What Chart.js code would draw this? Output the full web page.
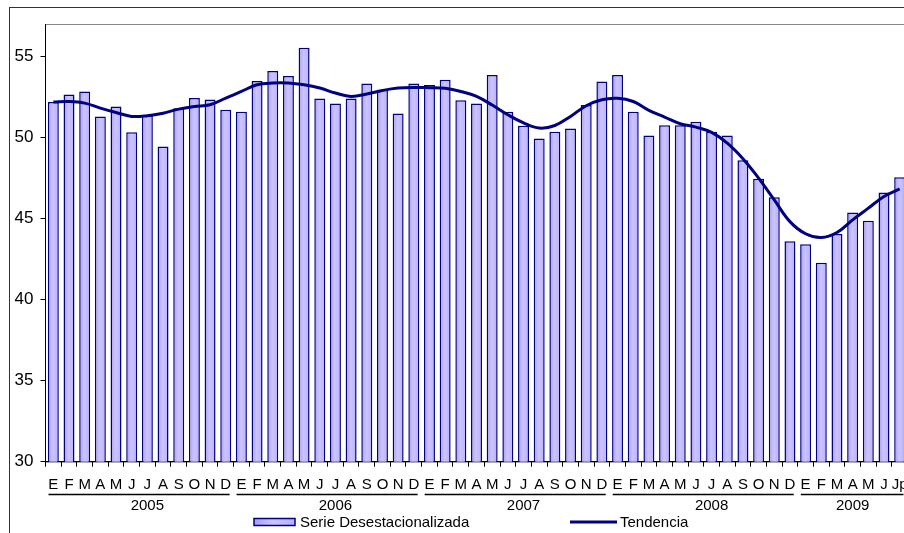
<!DOCTYPE html>
<html>
<head>
<meta charset="utf-8">
<script src="https://cdn.jsdelivr.net/npm/chart.js@4/dist/chart.umd.min.js"></script>
<style>
    html, body { margin: 0; padding: 0; background: #fff; overflow: hidden; }
    #wrap { position: relative; width: 920px; height: 545px; }
</style>
</head>
<body>
<div id="wrap"><canvas id="chart" width="920" height="545"></canvas></div>
<script>
// Month letters per year (2009 ends with preliminary July)
const months = ['E', 'F', 'M', 'A', 'M', 'J', 'J', 'A', 'S', 'O', 'N', 'D'];
const months2009 = ['E', 'F', 'M', 'A', 'M', 'J', 'Jp'];
const years = ['2005', '2006', '2007', '2008', '2009'];

// Serie desestacionalizada
const serie2005 = [52.19, 52.65, 52.84, 51.30, 51.91, 50.33, 51.36, 49.44, 51.81, 52.43, 52.35, 51.71];
const serie2006 = [51.59, 53.48, 54.10, 53.79, 55.54, 52.40, 52.10, 52.40, 53.33, 52.94, 51.48, 53.33];
const serie2007 = [53.23, 53.56, 52.30, 52.10, 53.85, 51.59, 50.72, 49.94, 50.35, 50.56, 52.00, 53.46];
const serie2008 = [53.85, 51.58, 50.12, 50.76, 50.76, 50.97, 50.35, 50.12, 48.60, 47.45, 46.32, 43.60];
const serie2009 = [43.42, 42.27, 44.04, 45.37, 44.86, 46.60, 47.55];

// Tendencia
const tend2005 = [52.19, 52.22, 52.12, 51.81, 51.54, 51.30, 51.34, 51.50, 51.75, 51.91, 52.02, 52.43];
const tend2006 = [52.84, 53.25, 53.36, 53.36, 53.25, 53.05, 52.74, 52.53, 52.68, 52.90, 53.05, 53.09];
const tend2007 = [53.07, 53.03, 52.84, 52.53, 52.00, 51.40, 50.90, 50.58, 50.74, 51.30, 51.96, 52.33];
const tend2008 = [52.42, 52.22, 51.67, 51.26, 50.85, 50.64, 50.31, 49.65, 48.69, 47.49, 46.15, 44.81];
const tend2009 = [44.06, 43.83, 44.14, 44.92, 45.64, 46.36, 46.83];

const yTicks = [30, 35, 40, 45, 50, 55];

const yearMonths = [months, months, months, months, months2009];
const labels = [].concat(...yearMonths);
const serie = [].concat(serie2005, serie2006, serie2007, serie2008, serie2009);
const tendencia = [].concat(tend2005, tend2006, tend2007, tend2008, tend2009);

const FONT = "'Liberation Sans', Arial, sans-serif";
const NAVY = '#000080';

function lavender(c, x0, x1) {
    const g = c.createLinearGradient(x0, 0, x1, 0);
    g.addColorStop(0, '#A89CF0');
    g.addColorStop(0.45, '#CCC4FF');
    g.addColorStop(1, '#B8B0FA');
    return g;
}

function barFill(ctx) {
    const chart = ctx.chart;
    if (!chart.chartArea) return '#C0B8FF';
    const xs = chart.scales.x;
    const x = xs.getPixelForValue(ctx.dataIndex);
    const half = xs.width / labels.length * 0.35;
    return lavender(chart.ctx, x - half, x + half);
}

// outer box and plot frame
const framePlugin = {
    id: 'frame',
    beforeDraw(chart) {
        const c = chart.ctx;
        const a = chart.chartArea;
        c.save();
        c.strokeStyle = '#333';
        c.lineWidth = 1;
        c.strokeRect(9.5, 7.5, chart.width - 14, chart.height - 8);
        c.strokeStyle = '#888';
        c.strokeRect(a.left, a.top + 0.5, a.right - a.left, a.bottom - a.top);
        c.restore();
    }
};

// year groups under the month letters, plus legend
const yearPlugin = {
    id: 'years',
    afterDraw(chart) {
        const c = chart.ctx;
        const xs = chart.scales.x;
        const step = xs.width / labels.length;
        c.save();
        c.fillStyle = '#000';
        c.strokeStyle = '#000';
        c.lineWidth = 1.5;
        c.font = '15px ' + FONT;
        c.textAlign = 'center';
        let start = 0;
        yearMonths.forEach((m, i) => {
            const end = start + m.length - 1;
            const x0 = xs.getPixelForValue(start) - step / 2 + 3;
            const x1 = xs.getPixelForValue(end) + step / 2 - 4;
            c.beginPath();
            c.moveTo(x0, 494.5);
            c.lineTo(x1, 494.5);
            c.stroke();
            c.fillText(years[i], xs.getPixelForValue(start + Math.floor(m.length / 2)), 509.5);
            start += m.length;
        });

        // legend
        const bars = chart.data.datasets.find(d => d.type !== 'line');
        const line = chart.data.datasets.find(d => d.type === 'line');
        const ly = 522;
        c.fillStyle = lavender(c, 254, 295);
        c.fillRect(254, ly - 3.5, 41, 7);
        c.strokeStyle = NAVY;
        c.lineWidth = 1.5;
        c.strokeRect(254, ly - 3.5, 41, 7);
        c.fillStyle = '#000';
        c.textAlign = 'left';
        c.fillText(bars.label, 300, 527);
        c.lineWidth = 3;
        c.beginPath();
        c.moveTo(570, ly);
        c.lineTo(617, ly);
        c.stroke();
        c.fillText(line.label, 620, 527);
        c.restore();
    }
};

const chart = new Chart(document.getElementById('chart').getContext('2d'), {
    type: 'bar',
    data: {
        labels: labels,
        datasets: [
            {
                type: 'line',
                label: 'Tendencia',
                data: tendencia,
                borderColor: NAVY,
                borderWidth: 3,
                pointRadius: 0,
                tension: 0.4,
                fill: false,
                order: 1
            },
            {
                type: 'bar',
                label: 'Serie Desestacionalizada',
                data: serie,
                backgroundColor: barFill,
                borderColor: NAVY,
                borderWidth: 1.5,
                barPercentage: 0.7,
                categoryPercentage: 1,
                order: 2
            }
        ]
    },
    options: {
        responsive: false,
        animation: false,
        layout: { padding: { top: 24, right: 12.5, bottom: 12.3, left: 0 } },
        plugins: {
            legend: { display: false },
            tooltip: { enabled: false }
        },
        scales: {
            x: {
                grid: { offset: true, drawOnChartArea: false, tickLength: 5, color: '#000' },
                border: { color: '#000', width: 1 },
                ticks: {
                    color: '#000',
                    font: { family: FONT, size: 15 },
                    maxRotation: 0,
                    autoSkip: false,
                    padding: 9
                },
                afterFit(s) { s.height = 71; }
            },
            y: {
                min: 30,
                max: 57,
                grid: { drawOnChartArea: false, tickLength: 5, color: '#000' },
                border: { color: '#000', width: 1 },
                ticks: {
                    color: '#000',
                    font: { family: FONT, size: 17 },
                    padding: 7
                },
                afterBuildTicks(s) { s.ticks = yTicks.map(v => ({ value: v })); },
                afterFit(s) { s.width = 45.5; }
            }
        }
    },
    plugins: [framePlugin, yearPlugin]
});
</script>
</body>
</html>
